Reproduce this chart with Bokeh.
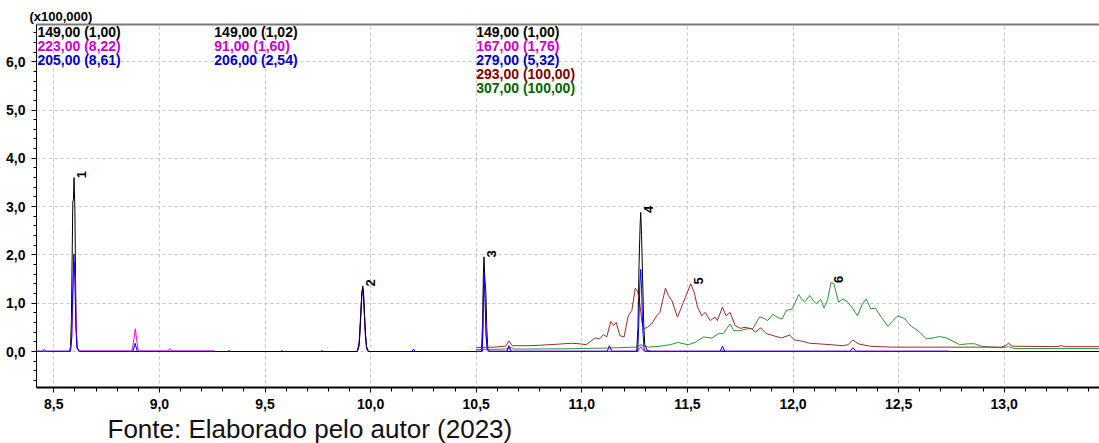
import math
from bokeh.plotting import figure
from bokeh.models import (Range1d, SingleIntervalTicker, FixedTicker, CustomJSTickFormatter, Label,
                          LinearAxis, BoxAnnotation)
from bokeh.core.properties import value
from bokeh.embed import file_html
from bokeh.resources import INLINE

# ---------------- data (retention time in min, intensity x100,000) ----------------
seg_start = [8.418, 9.26, 10.5]

# segment 1 : 149 (black), 223 (magenta), 205 (blue)
s1_t_149 = [8.418, 8.575, 8.579, 8.583, 8.587, 8.590, 8.593, 8.596, 8.600, 8.603, 8.606, 8.61, 8.62, 9.26]
s1_y_149 = [0.0, 0.0, 0.1, 0.6, 2.0, 3.1, 3.15, 3.6, 2.9, 1.5, 0.5, 0.1, 0.0, 0.0]
s1_t_223 = [8.418, 8.578, 8.584, 8.589, 8.594, 8.598, 8.602, 8.606, 8.611, 8.62, 8.87, 8.879, 8.886, 8.892, 8.90, 9.04, 9.05, 9.06, 9.26]
s1_y_223 = [0.005, 0.005, 0.2, 1.0, 1.6, 1.85, 1.3, 0.5, 0.05, 0.01, 0.01, 0.25, 0.47, 0.25, 0.01, 0.01, 0.06, 0.01, 0.01]
s1_t_205 = [8.418, 8.445, 8.455, 8.465, 8.579, 8.585, 8.590, 8.595, 8.600, 8.604, 8.609, 8.62, 8.875, 8.885, 8.895, 9.26]
s1_y_205 = [0.005, 0.005, 0.04, 0.005, 0.005, 0.3, 1.3, 2.02, 1.5, 0.6, 0.08, 0.005, 0.005, 0.17, 0.005, 0.005]

# segment 2 : 149 (black), 91 (magenta), 206 (blue)
s2_t_149 = [9.26, 9.325, 9.33, 9.335, 9.575, 9.58, 9.585, 9.765, 9.77, 9.775, 9.935, 9.945, 9.952, 9.958, 9.963, 9.968, 9.974, 9.98, 9.99, 10.5]
s2_y_149 = [0.0, 0.0, 0.02, 0.0, 0.0, 0.02, 0.0, 0.0, 0.02, 0.0, 0.0, 0.1, 0.6, 1.2, 1.36, 1.1, 0.5, 0.1, 0.0, 0.0]
s2_t_91 = [9.26, 9.937, 9.946, 9.953, 9.959, 9.964, 9.969, 9.975, 9.982, 9.99, 10.5]
s2_y_91 = [0.0, 0.0, 0.2, 0.8, 1.22, 1.28, 0.9, 0.35, 0.05, 0.0, 0.0]
s2_t_206 = [9.26, 9.938, 9.947, 9.954, 9.960, 9.965, 9.970, 9.976, 9.983, 9.99, 10.195, 10.203, 10.211, 10.5]
s2_y_206 = [0.0, 0.0, 0.2, 0.8, 1.25, 1.30, 0.85, 0.3, 0.04, 0.0, 0.0, 0.05, 0.0, 0.0]

# segment 3 : 149 (black), 167 (magenta), 279 (blue), 293 (dark red), 307 (green)
s3_t_149 = [10.5, 10.525, 10.530, 10.534, 10.537, 10.541, 10.546, 10.550, 10.555, 10.565,
            11.26, 11.266, 11.271, 11.276, 11.279, 11.283, 11.288, 11.293, 11.298, 11.31, 11.33, 13.45]
s3_y_149 = [0.0, 0.0, 0.6, 1.6, 1.96, 1.5, 1.2, 0.5, 0.05, 0.0,
            0.0, 0.5, 1.8, 2.6, 2.88, 2.4, 1.5, 0.6, 0.15, 0.02, 0.0, 0.0]
s3_t_167 = [10.5, 10.529, 10.533, 10.536, 10.539, 10.543, 10.547, 10.553, 10.56, 10.645, 10.655, 10.665,
            11.265, 11.275, 11.281, 11.29, 11.30, 11.66, 11.67, 11.68, 12.74]
s3_y_167 = [0.005, 0.005, 0.6, 1.2, 1.45, 1.0, 0.3, 0.03, 0.005, 0.005, 0.08, 0.005,
            0.005, 0.08, 0.1, 0.03, 0.005, 0.005, 0.04, 0.005, 0.005]
s3_t_279 = [10.5, 10.528, 10.532, 10.535, 10.538, 10.542, 10.546, 10.552, 10.56, 10.645, 10.655, 10.665,
            11.12, 11.131, 11.142, 11.265, 11.270, 11.275, 11.279, 11.283, 11.288, 11.295, 11.30,
            11.655, 11.666, 11.677, 12.27, 12.284, 12.298, 12.74]
s3_y_279 = [0.005, 0.005, 0.5, 1.3, 1.6, 1.1, 0.4, 0.05, 0.005, 0.005, 0.12, 0.005,
            0.005, 0.12, 0.005, 0.005, 0.6, 1.4, 1.7, 1.3, 0.5, 0.05, 0.005,
            0.005, 0.11, 0.005, 0.005, 0.08, 0.005, 0.005]
s3_t_293 = [10.50, 10.58, 10.64, 10.655, 10.67, 10.75, 10.805, 10.88, 10.95, 10.99, 11.02, 11.063, 11.084,
            11.103, 11.118, 11.137, 11.15, 11.163, 11.18, 11.20, 11.22, 11.237, 11.253, 11.264, 11.273,
            11.285, 11.295, 11.31, 11.33, 11.355, 11.37, 11.396, 11.41, 11.426, 11.437, 11.453, 11.466,
            11.49, 11.516, 11.532, 11.548, 11.568, 11.584, 11.608, 11.631, 11.642, 11.666, 11.683, 11.702,
            11.726, 11.75, 11.773, 11.805, 11.822, 11.847, 11.874, 11.913, 11.945, 11.984, 12.008, 12.047,
            12.079, 12.118, 12.18, 12.237, 12.26, 12.284, 12.308, 12.363, 12.466, 12.59, 12.75, 12.986,
            13.005, 13.02, 13.04, 13.25, 13.27, 13.29, 13.45]
s3_y_293 = [0.08, 0.09, 0.11, 0.22, 0.12, 0.12, 0.13, 0.15, 0.17, 0.16, 0.14, 0.28, 0.26,
            0.35, 0.30, 0.62, 0.54, 0.60, 0.33, 0.30, 0.74, 0.85, 1.31, 1.25, 1.06,
            0.60, 0.47, 0.50, 0.57, 0.74, 0.81, 1.31, 1.16, 1.06, 0.92, 0.71, 0.85,
            1.12, 1.40, 1.23, 0.92, 0.74, 0.81, 0.64, 0.71, 0.64, 0.92, 0.74, 0.81,
            0.54, 0.48, 0.50, 0.47, 0.40, 0.49, 0.37, 0.32, 0.28, 0.34, 0.24, 0.21,
            0.17, 0.16, 0.14, 0.12, 0.14, 0.24, 0.16, 0.11, 0.09, 0.09, 0.09, 0.09,
            0.12, 0.17, 0.11, 0.10, 0.12, 0.10, 0.10]
s3_t_307 = [10.50, 10.64, 10.66, 10.68, 10.90, 11.118, 11.257, 11.28, 11.316, 11.37, 11.418, 11.458, 11.47,
            11.505, 11.537, 11.576, 11.616, 11.647, 11.67, 11.702, 11.72, 11.75, 11.78, 11.81, 11.842,
            11.866, 11.88, 11.905, 11.929, 11.948, 11.968, 11.995, 12.008, 12.027, 12.04, 12.055, 12.079,
            12.095, 12.11, 12.131, 12.147, 12.163, 12.18, 12.194, 12.216, 12.237, 12.26, 12.284, 12.305,
            12.327, 12.347, 12.368, 12.39, 12.418, 12.45, 12.473, 12.497, 12.529, 12.56, 12.579, 12.60,
            12.631, 12.663, 12.694, 12.726, 12.758, 12.789, 12.829, 12.86, 12.892, 12.94, 12.986, 13.02,
            13.05, 13.45]
s3_y_307 = [0.04, 0.05, 0.09, 0.05, 0.055, 0.07, 0.09, 0.14, 0.09, 0.11, 0.14, 0.19, 0.17,
            0.14, 0.19, 0.30, 0.28, 0.37, 0.37, 0.57, 0.43, 0.43, 0.47, 0.47, 0.72,
            0.68, 0.64, 0.77, 0.70, 0.67, 0.85, 0.88, 0.99, 1.18, 1.09, 1.02, 1.16,
            1.06, 0.99, 1.08, 0.90, 1.06, 1.43, 1.40, 1.02, 1.09, 1.02, 0.88, 0.74,
            0.97, 1.09, 0.88, 0.90, 0.71, 0.52, 0.64, 0.74, 0.68, 0.52, 0.47, 0.40,
            0.26, 0.28, 0.31, 0.28, 0.21, 0.14, 0.16, 0.16, 0.11, 0.09, 0.08, 0.10,
            0.06, 0.06]

# peak labels
peak_id = ["1", "2", "3", "4", "5", "6"]
peak_rt = [8.596, 9.963, 10.537, 11.279, 11.516, 12.18]
peak_top = [3.6, 1.36, 1.96, 2.88, 1.40, 1.43]

# ion legend per segment: (text, colour)
legend_seg1 = [("149,00 (1,00)", "#000000"), ("223,00 (8,22)", "#CC00CC"), ("205,00 (8,61)", "#0000C0")]
legend_seg2 = [("149,00 (1,02)", "#000000"), ("91,00 (1,60)", "#CC00CC"), ("206,00 (2,54)", "#0000C0")]
legend_seg3 = [("149,00 (1,00)", "#000000"), ("167,00 (1,76)", "#CC00CC"), ("279,00 (5,32)", "#0000C0"),
               ("293,00 (100,00)", "#800000"), ("307,00 (100,00)", "#006400")]

scale_text = "(x100,000)"
source_text = "Fonte: Elaborado pelo autor (2023)"

# ---------------- layout ----------------
W, H = 1099, 443
PXX, PXY = 211.2, 48.3            # pixels per minute / per 1.0 intensity
X0 = 8.5 - 53.3 / PXX             # canvas left edge
X1 = X0 + W / PXX
Y1 = 351.0 / PXY                  # canvas top edge
Y0 = Y1 - H / PXY
AX_L, AX_R = 8.418, X1            # y axis location / right end
AX_B, AX_T = -0.752, 6.776        # x axis location / top frame line

def cx2d(cx):
    return X0 + cx / PXX

def cy2d(cy):
    return Y1 - cy / PXY

FONT = "Liberation Sans"

p = figure(width=W, height=H, x_range=Range1d(X0, X1), y_range=Range1d(Y0, Y1),
           output_backend="svg", toolbar_location=None, x_axis_location=None, y_axis_location=None,
           min_border_left=0, min_border_right=0, min_border_top=0, min_border_bottom=0,
           outline_line_color=None, background_fill_color="white", border_fill_color="white")

fmt = CustomJSTickFormatter(code="return tick.toFixed(1).replace('.', ',');")

xax = LinearAxis(fixed_location=AX_B, bounds=(AX_L, AX_R),
                 ticker=SingleIntervalTicker(interval=0.5, num_minor_ticks=5), formatter=fmt,
                 axis_line_color="black", axis_line_width=2,
                 major_tick_in=0, major_tick_out=5, minor_tick_in=0, minor_tick_out=4,
                 major_tick_line_color="black", minor_tick_line_color="black",
                 major_label_standoff=6, major_label_text_font=FONT, major_label_text_font_style="bold",
                 major_label_text_font_size="14px", major_label_text_color="black")
p.add_layout(xax, "below")

yax = LinearAxis(fixed_location=AX_L, bounds=(AX_B, AX_T),
                 ticker=SingleIntervalTicker(interval=1.0, num_minor_ticks=5), formatter=fmt,
                 axis_line_color="black", axis_line_width=1,
                 major_tick_in=0, major_tick_out=5, minor_tick_in=0, minor_tick_out=3,
                 major_tick_line_color="black", minor_tick_line_color="black",
                 major_label_standoff=6, major_label_text_font=FONT, major_label_text_font_style="bold",
                 major_label_text_font_size="14px", major_label_text_color="black")
p.add_layout(yax, "left")

topax = LinearAxis(fixed_location=AX_T, bounds=(AX_L, AX_R), ticker=FixedTicker(ticks=[]),
                   axis_line_color="#7a7a7a", axis_line_width=2,
                   major_tick_line_color=None, minor_tick_line_color=None,
                   major_label_text_font_size="0px")
p.add_layout(topax, "above")

p.xgrid[0].ticker = xax.ticker
p.ygrid[0].ticker = yax.ticker
p.ygrid[0].bounds = (AX_B, AX_T)
for g in (p.xgrid[0], p.ygrid[0]):
    g.grid_line_color = "#c4c4c4"
    g.grid_line_dash = "3 3"
    g.grid_line_width = 1

# white masks so grid lines stop at the frame axes
for kw in (dict(right=AX_L), dict(bottom=AX_T), dict(top=AX_B)):
    p.add_layout(BoxAnnotation(fill_color="white", fill_alpha=1.0, line_color=None, level="underlay", **kw))

BLACK, MAG, BLUE, RED, GREEN = "#000000", "#FF00FF", "#0000FF", "#9A2C2C", "#2A962A"

# segment 1
p.line(s1_t_149, s1_y_149, line_color=BLACK, line_width=1)
p.line(s1_t_223, s1_y_223, line_color=MAG, line_width=1)
p.line(s1_t_205, s1_y_205, line_color=BLUE, line_width=1)
# segment 2
p.line(s2_t_91, s2_y_91, line_color=MAG, line_width=1)
p.line(s2_t_206, s2_y_206, line_color=BLUE, line_width=1)
p.line(s2_t_149, s2_y_149, line_color=BLACK, line_width=1)
# segment 3
p.line(s3_t_149, s3_y_149, line_color=BLACK, line_width=1)
p.line(s3_t_307, s3_y_307, line_color=GREEN, line_width=1)
p.line(s3_t_293, s3_y_293, line_color=RED, line_width=1)
p.line(s3_t_167, s3_y_167, line_color=MAG, line_width=1)
p.line(s3_t_279, s3_y_279, line_color=BLUE, line_width=1)

# peak numbers (rotated)
p.text(x=peak_rt, y=peak_top, text=peak_id, angle=math.pi / 2,
       text_align="center", text_baseline="top", x_offset=3, y_offset=-3,
       text_font=value(FONT), text_font_style="bold", text_font_size="13px", text_color="black")

# ion legends at segment starts
for xs, block, xo in ((seg_start[0], legend_seg1, 1), (seg_start[1], legend_seg2, 0), (seg_start[2], legend_seg3, 0)):
    for i, (txt, col) in enumerate(block):
        p.add_layout(Label(x=xs, y=cy2d(31 + 14.1 * i), text=txt, x_offset=xo,
                           text_align="left", text_baseline="middle",
                           text_font=FONT, text_font_style="bold", text_font_size="14px",
                           text_color=col))

p.add_layout(Label(x=cx2d(29), y=cy2d(16), text=scale_text, text_align="left", text_baseline="middle",
                   text_font=FONT, text_font_style="bold", text_font_size="13px", text_color="black"))

p.add_layout(Label(x=cx2d(107), y=cy2d(428), text=source_text, text_align="left", text_baseline="middle",
                   text_font=FONT, text_font_style="normal", text_font_size="26px", text_color="#111111"))

open("out.html", "w").write(file_html(p, INLINE))
